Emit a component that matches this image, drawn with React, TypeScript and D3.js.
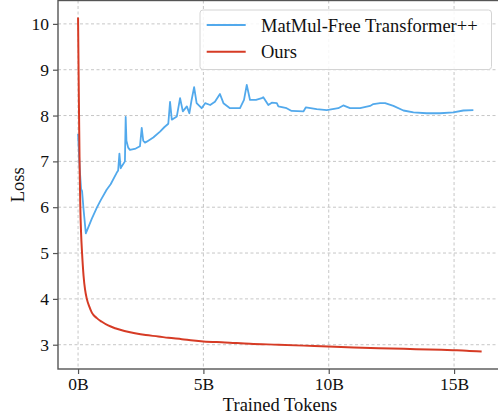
import React, { useEffect, useRef } from 'react'
import * as d3 from 'd3'

// trained tokens (B) / loss
const baseX = [0, 0.06, 0.12, 0.16, 0.22, 0.31, 0.4, 0.55, 0.75, 0.9, 1.14, 1.3, 1.54, 1.6, 1.65, 1.7, 1.74, 1.87, 1.9, 1.93, 2.0, 2.07, 2.3, 2.47, 2.54, 2.6, 2.67, 2.74, 3.0, 3.27, 3.45, 3.6, 3.67, 3.74, 3.94, 4.07, 4.18, 4.34, 4.44, 4.53, 4.63, 4.73, 4.93, 5.07, 5.27, 5.46, 5.66, 5.8, 6.06, 6.46, 6.62, 6.73, 6.86, 7.1, 7.33, 7.39, 7.59, 7.73, 7.93, 7.99, 8.32, 8.52, 8.99, 9.09, 9.52, 9.92, 10.38, 10.58, 10.85, 11.25, 11.65, 11.78, 12.05, 12.25, 12.58, 12.98, 13.38, 13.91, 14.44, 14.97, 15.37, 15.77]
const baseLoss = [7.6, 6.9, 6.4, 6.35, 5.95, 5.43, 5.55, 5.75, 5.99, 6.15, 6.38, 6.5, 6.75, 6.8, 7.17, 6.85, 6.89, 7.0, 7.97, 7.45, 7.3, 7.25, 7.28, 7.33, 7.73, 7.45, 7.41, 7.43, 7.52, 7.65, 7.75, 7.82, 8.3, 7.91, 7.98, 8.38, 8.09, 8.2, 8.05, 8.34, 8.62, 8.27, 8.16, 8.27, 8.23, 8.3, 8.47, 8.27, 8.16, 8.16, 8.34, 8.67, 8.34, 8.34, 8.38, 8.4, 8.23, 8.28, 8.27, 8.2, 8.16, 8.1, 8.09, 8.18, 8.14, 8.12, 8.16, 8.22, 8.16, 8.16, 8.21, 8.25, 8.27, 8.27, 8.21, 8.11, 8.07, 8.05, 8.05, 8.07, 8.11, 8.12]

const oursX = [0, 0.02, 0.04, 0.06, 0.09, 0.12, 0.16, 0.22, 0.28, 0.35, 0.45, 0.55, 0.75, 0.95, 1.2, 1.48, 1.85, 2.27, 2.7, 3.2, 3.6, 4.14, 4.6, 5.0, 5.86, 6.86, 8.0, 9.0, 9.98, 11.0, 12.0, 13.0, 14.0, 14.97, 15.5, 16.1]
const oursLoss = [10.14, 9.0, 8.0, 7.0, 6.0, 5.45, 5.0, 4.5, 4.2, 4.0, 3.83, 3.7, 3.58, 3.5, 3.42, 3.36, 3.3, 3.25, 3.21, 3.18, 3.15, 3.12, 3.09, 3.07, 3.05, 3.02, 3.0, 2.98, 2.96, 2.94, 2.925, 2.91, 2.895, 2.88, 2.87, 2.85]

const xTicks = [0, 5, 10, 15]
const yTicks = [3, 4, 5, 6, 7, 8, 9, 10]
const seriesNames = ['MatMul-Free Transformer++', 'Ours']
const colors = ['#52a9ec', '#d63b25']

const App = () => {
  const svgRef = useRef<SVGSVGElement>(null)

  useEffect(() => {
    const svg = d3.select(svgRef.current)
    svg.selectAll('*').remove()
    const W = 498, H = 418
    const left = 58, top = 0.5, bottom = 369, right = 501.7
    const font = "'Liberation Serif', 'Times New Roman', Times, serif"

    const x = d3.scaleLinear([-0.8, 16.9], [left, right])
    const y = d3.scaleLinear([2.47, 10.51], [bottom, top])

    svg.attr('width', W).attr('height', H).style('font-family', font)

    svg.append('defs').append('clipPath').attr('id', 'plot')
      .append('rect').attr('x', left).attr('y', top).attr('width', right - left).attr('height', bottom - top)

    const grid = svg.append('g').attr('stroke', '#b8b8b8').attr('stroke-width', 0.8).attr('stroke-dasharray', '3,2.5')
    grid.selectAll('.gx').data(xTicks).join('line')
      .attr('x1', d => x(d)).attr('x2', d => x(d)).attr('y1', top).attr('y2', bottom)
    grid.selectAll('.gy').data(yTicks).join('line')
      .attr('y1', d => y(d)).attr('y2', d => y(d)).attr('x1', left).attr('x2', right)

    const line = d3.line<[number, number]>().x(d => x(d[0])).y(d => y(d[1]))
    const smooth = d3.line<[number, number]>().x(d => x(d[0])).y(d => y(d[1])).curve(d3.curveMonotoneX)
    const plot = svg.append('g').attr('clip-path', 'url(#plot)')
    plot.append('path')
      .datum(baseX.map((v, i) => [v, baseLoss[i]] as [number, number]))
      .attr('d', line).attr('fill', 'none').attr('stroke', colors[0]).attr('stroke-width', 1.8).attr('stroke-linejoin', 'round')
    plot.append('path')
      .datum(oursX.map((v, i) => [v, oursLoss[i]] as [number, number]))
      .attr('d', smooth).attr('fill', 'none').attr('stroke', colors[1]).attr('stroke-width', 2).attr('stroke-linejoin', 'round')

    // spines
    svg.append('rect').attr('x', left).attr('y', top).attr('width', right - left).attr('height', bottom - top)
      .attr('fill', 'none').attr('stroke', '#555').attr('stroke-width', 1.4)

    const xAxis = svg.append('g').attr('transform', `translate(0,${bottom})`)
      .call(d3.axisBottom(x).tickValues(xTicks).tickFormat(d => `${d}B`).tickSize(5).tickPadding(4))
    const yAxis = svg.append('g').attr('transform', `translate(${left},0)`)
      .call(d3.axisLeft(y).tickValues(yTicks).tickSize(5).tickPadding(4))
    for (const ax of [xAxis, yAxis]) {
      ax.attr('font-family', null)
      ax.select('.domain').remove()
      ax.selectAll('line').attr('stroke', '#555').attr('stroke-width', 1.2)
      ax.selectAll('text').style('font-family', font).attr('font-size', 17.5).attr('fill', '#111')
    }

    svg.append('text').attr('x', 280).attr('y', 411).attr('text-anchor', 'middle')
      .style('font-family', font).attr('font-size', 18.5).attr('fill', '#111').text('Trained Tokens')
    svg.append('text').attr('transform', `translate(24,${(top + bottom) / 2}) rotate(-90)`).attr('text-anchor', 'middle')
      .style('font-family', font).attr('font-size', 18.5).attr('fill', '#111').text('Loss')

    const lg = svg.append('g')
    lg.append('rect').attr('x', 200).attr('y', 10).attr('width', 291.5).attr('height', 59.5).attr('rx', 3)
      .attr('fill', 'white').attr('fill-opacity', 0.85).attr('stroke', '#d4d4d4').attr('stroke-width', 1)
    seriesNames.forEach((name, i) => {
      const yy = 25 + i * 26.7
      lg.append('line').attr('x1', 206.7).attr('x2', 245.7).attr('y1', yy).attr('y2', yy)
        .attr('stroke', colors[i]).attr('stroke-width', 2)
      lg.append('text').attr('x', 261).attr('y', yy + 6.5).style('font-family', font).attr('font-size', 18.5)
        .attr('fill', '#111').text(name)
    })
  }, [])

  return (
    <div style={{ position: 'absolute', left: 0, top: 0 }}>
      <svg ref={svgRef} style={{ display: 'block' }}></svg>
    </div>
  )
}

export default App
